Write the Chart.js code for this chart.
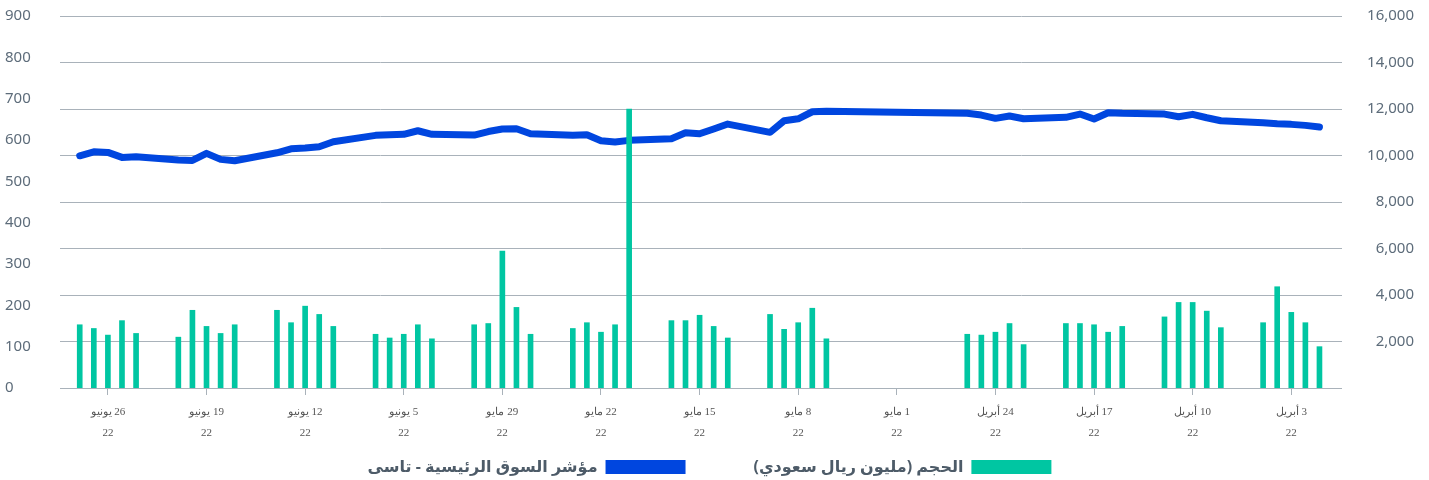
<!DOCTYPE html>
<html>
<head>
<meta charset="utf-8">
<script src="https://cdn.jsdelivr.net/npm/chart.js@4.4.0/dist/chart.umd.min.js"></script>
<style>
html,body{margin:0;padding:0;background:#fff;}
#wrap{width:1429px;height:480px;position:relative;}
</style>
</head>
<body>
<div id="wrap"><canvas id="c" dir="rtl"></canvas></div>
<script>
// ---- data ----
const dates = [
  '2022-04-01','2022-04-02','2022-04-03','2022-04-04','2022-04-05',
  '2022-04-08','2022-04-09','2022-04-10','2022-04-11','2022-04-12',
  '2022-04-15','2022-04-16','2022-04-17','2022-04-18','2022-04-19',
  '2022-04-22','2022-04-23','2022-04-24','2022-04-25','2022-04-26',
  '2022-05-06','2022-05-07','2022-05-08','2022-05-09','2022-05-10',
  '2022-05-13','2022-05-14','2022-05-15','2022-05-16','2022-05-17',
  '2022-05-20','2022-05-21','2022-05-22','2022-05-23','2022-05-24',
  '2022-05-27','2022-05-28','2022-05-29','2022-05-30','2022-05-31',
  '2022-06-03','2022-06-04','2022-06-05','2022-06-06','2022-06-07',
  '2022-06-10','2022-06-11','2022-06-12','2022-06-13','2022-06-14',
  '2022-06-17','2022-06-18','2022-06-19','2022-06-20','2022-06-21',
  '2022-06-24','2022-06-25','2022-06-26','2022-06-27','2022-06-28'
];
const volume = [
  100,158,183,245,158,
  146,186,207,207,172,
  149,135,153,156,156,
  105,156,135,128,130,
  119,193,158,142,178,
  121,149,176,163,163,
  675,153,135,158,144,
  130,195,331,156,153,
  119,153,130,121,130,
  149,178,198,158,188,
  153,132,149,188,123,
  132,163,128,144,153
];
const tasi = [
  11223,11296,11339,11365,11408,
  11494,11624,11770,11667,11782,
  11813,11839,11567,11782,11640,
  11580,11697,11597,11740,11813,
  11899,11882,11580,11494,10995,
  11352,11137,10935,10978,10719,
  10651,10577,10633,10892,10866,
  10935,11150,11137,11030,10879,
  10909,11064,10909,10892,10866,
  10590,10375,10319,10289,10117,
  9772,9833,10091,9790,9802,
  9945,9919,10134,10160,9988
];
const tickDates = [
  '2022-04-03','2022-04-10','2022-04-17','2022-04-24','2022-05-01','2022-05-08','2022-05-15',
  '2022-05-22','2022-05-29','2022-06-05','2022-06-12','2022-06-19','2022-06-26'
];
const tickLabels = [
  '3 أبريل','10 أبريل','17 أبريل','24 أبريل','1 مايو','8 مايو','15 مايو',
  '22 مايو','29 مايو','5 يونيو','12 يونيو','19 يونيو','26 يونيو'
];
const tickYear = '22';
const seriesNames = ['الحجم (مليون ريال سعودي)', 'مؤشر السوق الرئيسية - تاسى'];

// ---- helpers ----
const base = Date.UTC(2022, 3, 3);
const dayNum = s => { const p = s.split('-').map(Number); return (Date.UTC(p[0], p[1]-1, p[2]) - base) / 86400000; };
const xs = dates.map(dayNum);
const tickXs = tickDates.map(dayNum);
const xMin = Math.min(...xs) - 1.6;
const xMax = Math.max(...xs) + 1.4;

const gridColor = '#a9b2ba';
const labelColor = '#5d6c7a';
const LEGEND_PAD = 68;     // horizontal gap between legend items
const LEGEND_CENTER_Y = 467;
const LEGEND_HEIGHT = 36;
const X_AXIS_HEIGHT = 56;

// keep the legend compact vertically while using a wide gap between items
const legendPlacer = {
  id: 'legendPlacer',
  afterInit(chart) {
    const lg = chart.legend;
    if (!lg || lg._wrapped) return;
    const orig = lg.fit.bind(lg);
    lg.fit = function () { orig(); this.height = LEGEND_HEIGHT; };
    lg._wrapped = true;
  },
  afterLayout(chart) {
    const lg = chart.legend;
    if (!lg) return;
    const itemH = Math.max(lg.options.labels.boxHeight, 16);
    const top = LEGEND_CENTER_Y - itemH / 2 - LEGEND_PAD;
    lg.top = top;
    lg.bottom = chart.height;
    lg.height = lg.bottom - lg.top;
  }
};

new Chart(document.getElementById('c'), {
  type: 'bar',
  plugins: [legendPlacer],
  data: {
    datasets: [
      {
        type: 'bar',
        label: seriesNames[0],
        data: xs.map((x, i) => ({x: x, y: volume[i]})),
        yAxisID: 'y',
        backgroundColor: '#00C6A2',
        borderWidth: 0,
        barThickness: 5,
        order: 1
      },
      {
        type: 'line',
        label: seriesNames[1],
        data: xs.map((x, i) => ({x: x, y: tasi[i]})),
        yAxisID: 'y1',
        borderColor: '#0046DF',
        backgroundColor: '#0046DF',
        borderWidth: 7,
        pointRadius: 0,
        pointHoverRadius: 0,
        tension: 0,
        fill: false,
        borderCapStyle: 'round',
        borderJoinStyle: 'round',
        order: 2
      }
    ]
  },
  options: {
    responsive: true,
    maintainAspectRatio: false,
    animation: false,
    layout: {padding: {left: 5, right: 15, top: 16, bottom: 0}},
    plugins: {
      tooltip: {enabled: false},
      legend: {
        position: 'bottom',
        rtl: true,
        labels: {
          boxWidth: 80,
          boxHeight: 14,
          padding: LEGEND_PAD,
          color: '#4d5b68',
          font: {family: "'Noto Sans', 'DejaVu Sans', sans-serif", size: 16, weight: 'bold'},
          generateLabels: (chart) => Chart.defaults.plugins.legend.labels.generateLabels(chart).map(l => Object.assign(l, {lineWidth: 0}))
        }
      }
    },
    scales: {
      x: {
        type: 'linear',
        reverse: true,
        min: xMin,
        max: xMax,
        offset: false,
        afterBuildTicks: (scale) => { scale.ticks = tickXs.map(v => ({value: v})); },
        afterFit: (scale) => { scale.height = X_AXIS_HEIGHT; },
        grid: {offset: false, drawOnChartArea: false, drawTicks: true, tickLength: 7, color: gridColor},
        border: {display: false},
        ticks: {
          autoSkip: false,
          maxRotation: 0,
          padding: 7,
          color: '#555',
          font: {family: "'Liberation Serif', serif", size: 11, lineHeight: 1.9},
          callback: (v) => { const i = tickXs.indexOf(v); return i < 0 ? '' : [tickLabels[i], tickYear]; }
        }
      },
      y: {
        position: 'left',
        min: 0,
        max: 900,
        afterFit: (scale) => { scale.width = 55; },
        grid: {display: false},
        border: {display: false},
        ticks: {
          stepSize: 100,
          crossAlign: 'far',
          color: labelColor,
          font: {family: "'Noto Sans', sans-serif", size: 15}
        }
      },
      y1: {
        position: 'right',
        min: 0,
        max: 16000,
        afterFit: (scale) => { scale.width = 72; },
        grid: {display: true, drawTicks: false, color: gridColor, lineWidth: 1},
        border: {display: false},
        ticks: {
          stepSize: 2000,
          crossAlign: 'far',
          color: labelColor,
          font: {family: "'Noto Sans', sans-serif", size: 15},
          callback: (v) => v === 0 ? '' : v.toLocaleString('en-US')
        }
      }
    }
  }
});
</script>
</body>
</html>
